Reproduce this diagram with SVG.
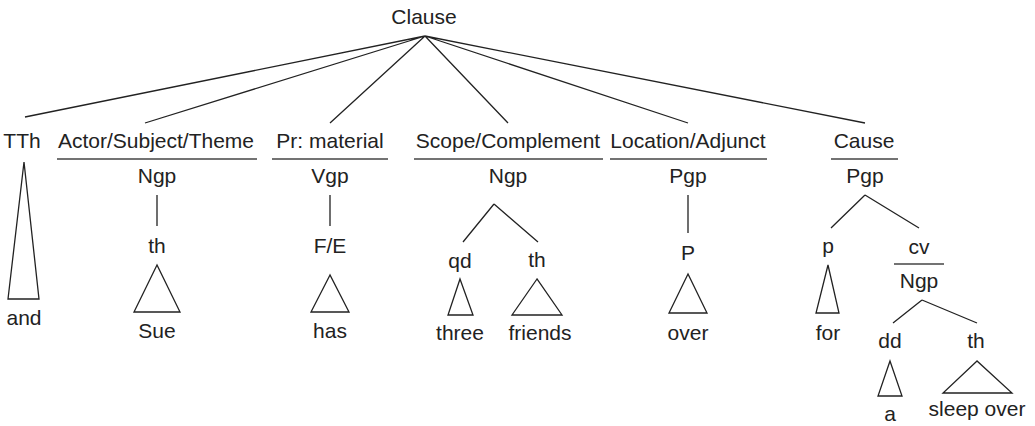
<svg xmlns="http://www.w3.org/2000/svg" width="1035" height="426" viewBox="0 0 1035 426">
<style>
text{font-family:"Liberation Sans",Arial,sans-serif;font-size:21px;fill:#222;text-anchor:middle}
.e{stroke:#222;stroke-width:1.3;fill:none}
.u{stroke:#444;stroke-width:1.6;fill:none}
.t{stroke:#222;stroke-width:1.3;fill:#fff}
</style>
<rect width="1035" height="426" fill="#fff"/>
<g id="connectors">
<path class="e" d="M425 36L25 117M425 36L145 123M425 36L330 123M425 36L508 123M425 36L688 123M425 36L865 123"/>
<path class="e" d="M157 195V226M330 195V226M688 195V233"/>
<path class="e" d="M494 204L463 242M494 204L538 242"/>
<path class="e" d="M865 195L831 228M865 195L919 228"/>
<path class="e" d="M922 300L893 323M922 300L977 323"/>
</g>
<g id="clause"><text x="424" y="24">Clause</text></g>
<g id="tth"><text x="22" y="148">TTh</text><path class="t" d="M24 162L8 299H39Z"/><text x="24" y="325">and</text></g>
<g id="actor"><text x="156" y="148">Actor/Subject/Theme</text><path class="u" d="M57 159H257"/><text x="157" y="183">Ngp</text></g>
<g id="actor-th"><text x="157" y="253">th</text><path class="t" d="M157 265L134 312H180Z"/><text x="157" y="338">Sue</text></g>
<g id="process"><text x="330" y="148">Pr: material</text><path class="u" d="M272 159H388"/><text x="330" y="183">Vgp</text></g>
<g id="fe"><text x="330" y="253">F/E</text><path class="t" d="M330 275L311 312H349Z"/><text x="330" y="338">has</text></g>
<g id="scope"><text x="508" y="148">Scope/Complement</text><path class="u" d="M414 159H603"/><text x="508" y="183">Ngp</text></g>
<g id="qd"><text x="460" y="268">qd</text><path class="t" d="M460 279L448 315H473Z"/><text x="460" y="340">three</text></g>
<g id="scope-th"><text x="537" y="267">th</text><path class="t" d="M537 279L512 315H562Z"/><text x="540" y="340">friends</text></g>
<g id="location"><text x="688" y="148">Location/Adjunct</text><path class="u" d="M610 159H767"/><text x="688" y="183">Pgp</text></g>
<g id="P"><text x="688" y="260">P</text><path class="t" d="M688 274L669 313H707Z"/><text x="688" y="340">over</text></g>
<g id="cause"><text x="864" y="148">Cause</text><path class="u" d="M831 159H898"/><text x="865" y="183">Pgp</text></g>
<g id="p"><text x="828" y="253">p</text><path class="t" d="M828 265L816 313H839Z"/><text x="828" y="340">for</text></g>
<g id="cv"><text x="919" y="254">cv</text><path class="u" d="M894 264H944"/><text x="919" y="288">Ngp</text></g>
<g id="dd"><text x="890" y="348">dd</text><path class="t" d="M890 361L878 396H902Z"/><text x="890" y="421">a</text></g>
<g id="cv-th"><text x="976" y="348">th</text><path class="t" d="M977 361L943 393H1012Z"/><text x="977" y="416">sleep over</text></g>
</svg>
